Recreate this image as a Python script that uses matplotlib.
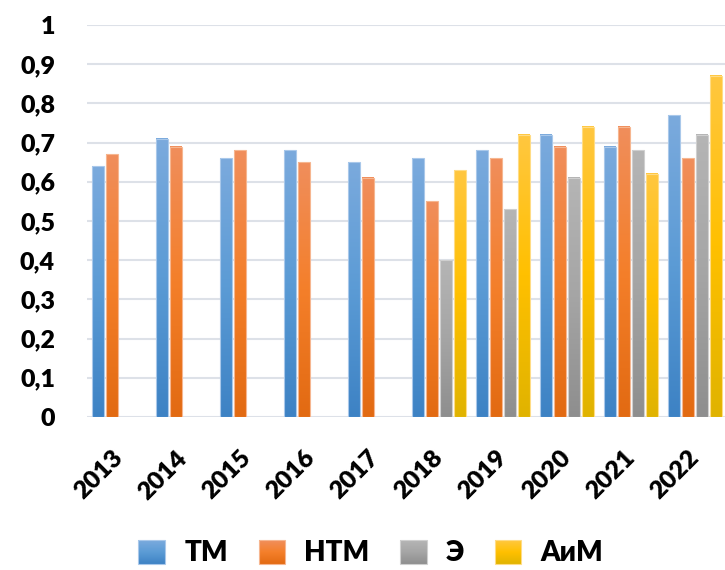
import numpy as np
import matplotlib
matplotlib.use("Agg")
import matplotlib.pyplot as plt
from matplotlib.colors import LinearSegmentedColormap
from matplotlib.legend_handler import HandlerBase
from matplotlib.patches import Rectangle

plt.rcParams["font.family"] = ["Lato", "DejaVu Sans"]
plt.rcParams["font.weight"] = "heavy"

nan = np.nan
years = ["2013", "2014", "2015", "2016", "2017", "2018", "2019", "2020", "2021", "2022"]
tm = [0.64, 0.71, 0.66, 0.68, 0.65, 0.66, 0.68, 0.72, 0.69, 0.77]
ntm = [0.67, 0.69, 0.68, 0.65, 0.61, 0.55, 0.66, 0.69, 0.74, 0.66]
e = [nan, nan, nan, nan, nan, 0.40, 0.53, 0.61, 0.68, 0.72]
aim = [nan, nan, nan, nan, nan, 0.63, 0.72, 0.74, 0.62, 0.87]
series_names = ["ТМ", "НТМ", "Э", "АиМ"]
y_ticks = [0, 0.1, 0.2, 0.3, 0.4, 0.5, 0.6, 0.7, 0.8, 0.9, 1.0]
y_labels = ["0", "0,1", "0,2", "0,3", "0,4", "0,5", "0,6", "0,7", "0,8", "0,9", "1"]

# gradient stops per series: bottom (dark) -> middle -> top (light)
gradients = [
    ["#3D82C4", "#5B9BD5", "#7BAADD"],
    ["#E26A12", "#F47F2A", "#F08E5C"],
    ["#8E8E8E", "#A5A5A5", "#B5B5B5"],
    ["#E0B300", "#FFC000", "#FFC740"],
]
edges = ["#A9C8EA", "#F6B690", "#CFCFCF", "#FFDC85"]
cmaps = [LinearSegmentedColormap.from_list(f"g{i}", g) for i, g in enumerate(gradients)]

W, H = 725, 570
fig = plt.figure(figsize=(W / 100, H / 100), dpi=100)
ax = fig.add_axes([87 / W, 1 - 417 / H, 640 / W, (417 - 25) / H])

x = np.arange(len(years))
pitch = 0.219
bw = 0.177
grad = np.linspace(0, 1, 256).reshape(-1, 1)

for i, vals in enumerate([tm, ntm, e, aim]):
    bars = ax.bar(x + (i - 1.5) * pitch, vals, width=bw, facecolor="none",
                  edgecolor=edges[i], linewidth=0.8, zorder=3)
    for b in bars:
        h = b.get_height()
        if not np.isfinite(h):
            continue
        x0 = b.get_x()
        ax.imshow(grad, extent=[x0, x0 + b.get_width(), 0, h], origin="lower",
                  aspect="auto", cmap=cmaps[i], zorder=2, interpolation="bilinear")

ax.set_xlim(-0.5, len(years) - 0.5)
ax.set_ylim(0, 1)
ax.set_yticks(y_ticks)
ax.set_yticklabels(y_labels, fontsize=18, fontweight="heavy")
ax.set_xticks(x)
ax.set_xticklabels(years, fontsize=18, fontweight="heavy", rotation=45,
                   ha="right", va="center", rotation_mode="anchor")
ax.tick_params(axis="y", length=0, pad=23)
ax.tick_params(axis="x", length=0, pad=27)
for s in ax.spines.values():
    s.set_visible(False)
ax.set_axisbelow(True)
ax.yaxis.grid(True, color="#DDE1E8", linewidth=1.5)
ax.xaxis.grid(False)


class GradientHandler(HandlerBase):
    def __init__(self, cmap, edge):
        super().__init__()
        self.cmap = cmap
        self.edge = edge

    def create_artists(self, legend, orig_handle, xdescent, ydescent, width,
                       height, fontsize, trans):
        n = 24
        arts = []
        for k in range(n):
            c = self.cmap(1 - (k + 0.5) / n)
            r = Rectangle((-xdescent, -ydescent + height * (1 - (k + 1) / n)),
                          width, height / n, facecolor=c, edgecolor="none",
                          transform=trans)
            arts.append(r)
        arts.append(Rectangle((-xdescent, -ydescent), width, height,
                              facecolor="none", edgecolor=self.edge,
                              linewidth=0.8, transform=trans))
        return arts


handles = [Rectangle((0, 0), 1, 1) for _ in series_names]
handler_map = {h: GradientHandler(cmaps[i], edges[i]) for i, h in enumerate(handles)}
fig.legend(handles, series_names, handler_map=handler_map, loc="center",
           bbox_to_anchor=(371 / W, 1 - 553 / H), ncol=4, frameon=False,
           prop={"size": 20, "weight": "heavy"}, handlelength=0.95,
           handleheight=0.95, handletextpad=0.7, columnspacing=1.1)

fig.savefig("out.png", dpi=100)
